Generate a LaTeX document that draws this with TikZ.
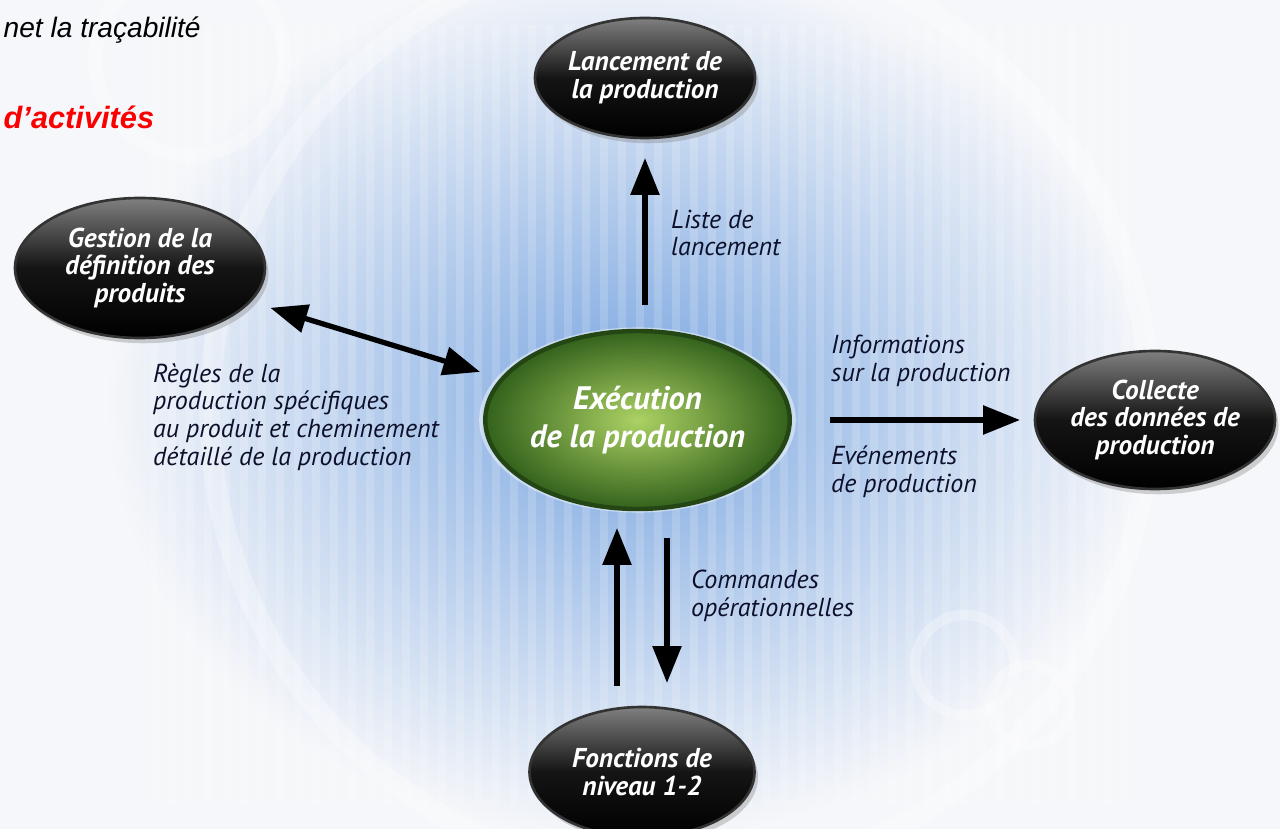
\documentclass[tikz,border=0pt]{standalone}
\usepackage{fontspec}
\newfontfamily\mesfont{PT Sans}
\newfontfamily\slidefont{Liberation Sans}
\usetikzlibrary{shapes.geometric,arrows.meta,calc,shadows}
\definecolor{fondbleu}{RGB}{122,166,224}
\definecolor{fondgris}{RGB}{246,247,250}
\definecolor{vertclair}{RGB}{172,210,100}
\definecolor{vertfonce}{RGB}{52,98,28}
\definecolor{texte}{RGB}{12,16,42}
\definecolor{rougeslide}{RGB}{250,0,0}

\begin{document}
\begin{tikzpicture}[
  bulle/.style 2 args={ellipse, minimum width=#1, minimum height=#2, inner sep=0pt, outer sep=0pt,
    align=center, text=white, font=\mesfont\bfseries\itshape\fontsize{15.5}{15.8}\selectfont,
    top color=black!50, bottom color=black, middle color=black!92, draw=black!80, line width=1.5pt,
    drop shadow={shadow xshift=2pt, shadow yshift=-3pt, opacity=0.35}},
  centre/.style={ellipse, minimum width=5.8cm, minimum height=3.56cm, inner sep=0pt, outer sep=0pt,
    align=center, text=white, font=\mesfont\bfseries\itshape\fontsize{18.5}{21.5}\selectfont,
    inner color=vertclair, outer color=vertfonce, draw=vertfonce!70!black, line width=2.5pt,
    drop shadow={shadow xshift=0pt, shadow yshift=0pt, shadow scale=1.04, fill=white, opacity=0.45}},
  legende/.style={anchor=west, align=left, text=texte, font=\mesfont\itshape\fontsize{14.8}{15.8}\selectfont},
  flux/.style={line width=3pt, -{Triangle[width=16pt,length=21pt]}},
  flux2/.style={line width=3pt, {Triangle[width=16pt,length=21pt]}-{Triangle[width=16pt,length=21pt]}}
]
  \useasboundingbox (0,0) rectangle (25.6,-16.58);
  \begin{scope}
    \clip (0,0) rectangle (25.6,-16.58);
    \fill[fondgris] (0,0) rectangle (25.6,-16.58);
    \shade[inner color=fondbleu, outer color=fondgris] (12.6,-8.0) ellipse (10.5 and 8.8);
    \foreach \x in {3.0,3.36,...,22.6}
      \fill[white, opacity=0.16] (\x,-0.5) rectangle ++(0.15,-15.6);
    \draw[white, opacity=0.3, line width=12pt] (13.6,-8.2) circle (9.4);
    \draw[white, opacity=0.3, line width=8pt] (3.8,-1.2) circle (1.9);
    \draw[white, opacity=0.3, line width=6pt] (19.3,-13.3) circle (1.0);
    \draw[white, opacity=0.3, line width=6pt] (20.6,-14.1) circle (0.8);
  \end{scope}

  \coordinate (L) at (12.9,-1.56);
  \coordinate (G) at (2.8,-5.36);
  \coordinate (E) at (12.75,-8.4);
  \coordinate (C) at (23.1,-8.4);
  \coordinate (F) at (12.84,-15.44);

  \node[anchor=west, font=\slidefont\itshape\fontsize{16}{19}\selectfont] (trace) at (-0.05,-0.6) {net la traçabilité};
  \node[anchor=west, text=rougeslide, font=\slidefont\bfseries\itshape\fontsize{17.5}{20}\selectfont] (activ) at (-0.05,-2.34) {d’activités};

  \node[bulle={4.4cm}{2.4cm}] (lancement) at (L) {Lancement de\\la production};
  \node[bulle={5.0cm}{2.8cm}] (gestion) at (G) {Gestion de la\\définition des\\produits};
  \node[centre] (execution) at (E) {Exécution\\de la production};
  \node[bulle={4.8cm}{2.76cm}] (collecte) at (C) {Collecte\\des données de\\production};
  \node[bulle={4.5cm}{2.6cm}] (fonctions) at (F) {Fonctions de\\niveau 1-2};

  \node[legende] (liste) at (13.3,-4.66) {Liste de\\lancement};
  \node[legende] (regles) at (2.94,-8.34) {Règles de la\\production spécifiques\\au produit et cheminement\\détaillé de la production};
  \node[legende] (infos) at (16.5,-7.22) {Informations\\sur la production};
  \node[legende] (evenements) at (16.5,-9.44) {Evénements\\de production};
  \node[legende] (commandes) at (13.7,-11.92) {Commandes\\opérationnelles};

  \draw[flux, shorten <=0.52cm, shorten >=0.4cm] (lancement.south |- execution.north) -- (lancement.south);
  \draw[flux2, shorten <=0.43cm, shorten >=0.47cm] (gestion) -- (execution);
  \draw[flux, shorten <=0.8cm, shorten >=0.3cm] (execution.east) -- (collecte.west);
  \draw[flux, shorten <=0.42cm, shorten >=0.38cm] ([xshift=-5mm]fonctions.north) -- ([xshift=-5mm]fonctions.north |- execution.south);
  \draw[flux, shorten <=0.58cm, shorten >=0.48cm] ([xshift=5mm]fonctions.north |- execution.south) -- ([xshift=5mm]fonctions.north);
\end{tikzpicture}
\end{document}
